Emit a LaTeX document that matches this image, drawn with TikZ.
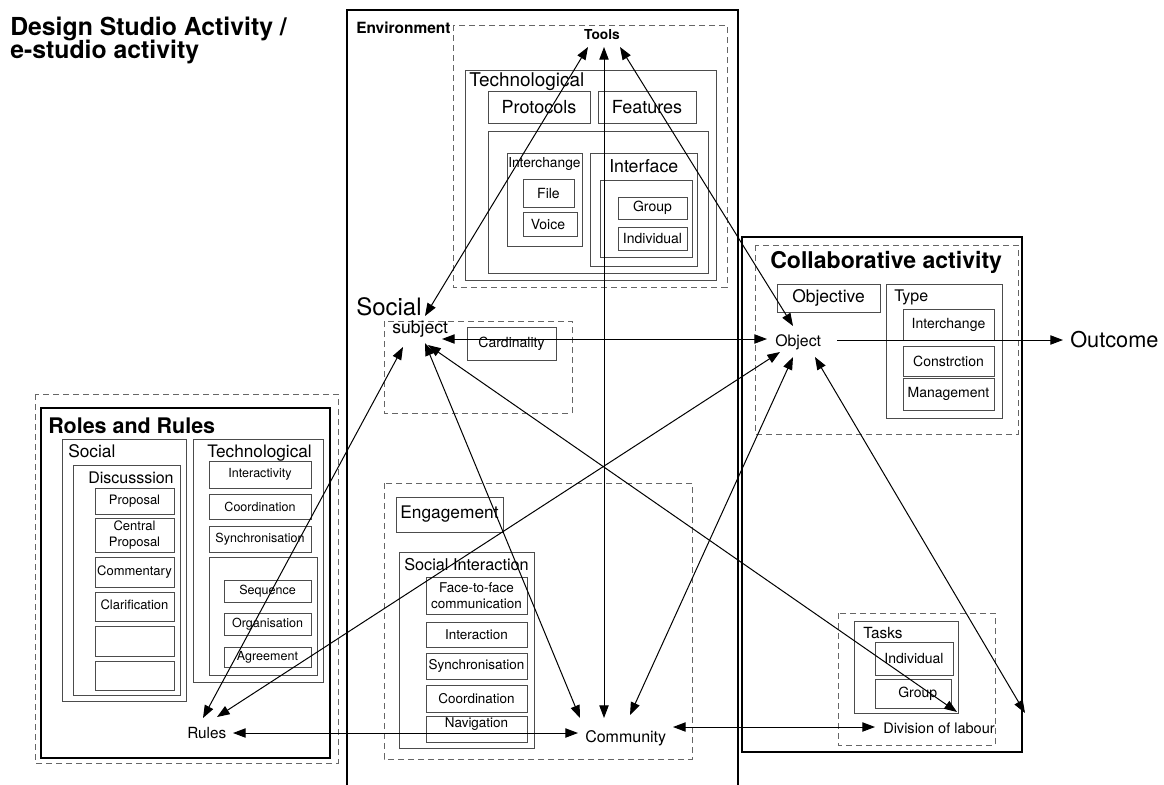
\documentclass[tikz,border=0pt]{standalone}
\usepackage{fontspec}
\setmainfont{TeX Gyre Heros}
\usetikzlibrary{arrows.meta,calc}

% font size helper: size, baseline skip
\newcommand\fs[2]{\fontsize{#1}{#2}\selectfont}
% boxed text item: name, corner, corner, node options, text
\newcommand\tbox[5]{%
  \draw[ibox] #2 rectangle #3;
  \node[txt,#4] (#1) at ($#2!0.5!#3$) {#5};}

\begin{document}
\begin{tikzpicture}[x=0.75pt,y=-0.75pt,
  >={Triangle[length=9.5pt,width=7pt]},
  ibox/.style={draw=black!70,line width=0.75pt},
  frame/.style={draw=black,line width=1.4pt},
  dbox/.style={draw=black!60,line width=0.75pt,dash pattern=on 4.5pt off 3pt},
  txt/.style={inner sep=0pt,font=\fs{10.5pt}{12.5pt},align=center},
  lbl/.style={inner sep=0pt,anchor=base west},
  conn/.style={line width=0.75pt,<->},
  sz9/.style={font=\fs{9.4pt}{12pt}},
  sz10/.style={font=\fs{10.1pt}{12pt}},
]
\useasboundingbox (0,0) rectangle (1164,785);
\fill[white] (0,0) rectangle (1164,785);

% ---------- title ----------
\node[lbl,font=\bfseries\fs{18.6pt}{20pt}] (title1) at (10,35) {Design Studio Activity /};
\node[lbl,font=\bfseries\fs{18.6pt}{20pt}] (title2) at (10,58) {e-studio activity};

% ---------- environment ----------
\draw[frame] (347,800) -- (347,10) -- (738,10) -- (738,800);
\node[lbl,font=\bfseries\fs{11.6pt}{14pt}] (env) at (356,33) {Environment};

% tools
\draw[dbox] (453,25) rectangle (727,287);
\node[inner sep=0pt,anchor=base,font=\bfseries\fs{10.3pt}{12pt}] (tools) at (602,39) {Tools};
\draw[ibox] (465,70) rectangle (716,280);
\node[lbl,font=\fs{14.2pt}{16pt}] (techenv) at (469,86) {Technological};
\tbox{protocols}{(488,91)}{(590,123)}{font=\fs{13.5pt}{15pt}}{Protocols}
\tbox{features}{(598,91)}{(696,123)}{font=\fs{13.5pt}{15pt}}{Features}
\draw[ibox] (488,131) rectangle (708,273);
\draw[ibox] (507,153) rectangle (582,246);
\node[lbl,font=\fs{10.3pt}{12pt}] (interchange) at (508,167) {Interchange};
\tbox{file}{(523,179)}{(574,207)}{}{File}
\tbox{voice}{(523,212)}{(577,236)}{xshift=-1.5pt}{Voice}
\draw[ibox] (590,153) rectangle (697,266);
\node[lbl,font=\fs{13.3pt}{15pt}] (interface) at (609,172) {Interface};
\draw[ibox] (600,180) rectangle (692,257);
\tbox{igroup}{(618,197)}{(687,219)}{}{Group}
\tbox{iindiv}{(618,227)}{(687,250)}{}{Individual}

% social
\node[lbl,font=\fs{18pt}{20pt}] (social) at (356,315) {Social};
\draw[dbox] (384,321) rectangle (572,413);
\node[lbl,font=\fs{13.2pt}{15pt}] (subject) at (392,333) {subject};
\tbox{card}{(467,327)}{(556,360)}{}{Cardinality}

% engagement
\draw[dbox] (384,483) rectangle (692,759);
\tbox{engage}{(396,497)}{(503,532)}{font=\fs{13pt}{15pt}}{Engagement}
\draw[ibox] (399,552) rectangle (534,748);
\node[lbl,font=\fs{12.2pt}{14pt}] (socint) at (404,570) {Social Interaction};
\tbox{f2f}{(426,577)}{(527,614)}{sz10}{Face-to-face\\communication}
\tbox{inter}{(426,622)}{(527,647)}{sz10}{Interaction}
\tbox{sync}{(426,653)}{(527,679)}{sz10}{Synchronisation}
\tbox{coord}{(426,685)}{(527,712)}{sz10}{Coordination}
\tbox{navig}{(426,716)}{(527,742)}{sz10,yshift=3.5pt}{Navigation}
\node[lbl,font=\fs{12pt}{14pt}] (community) at (585,742) {Community};

% ---------- roles and rules ----------
\draw[dbox] (35,394) rectangle (338,763);
\draw[frame] (41,408) rectangle (330,758);
\node[lbl,font=\bfseries\fs{16.1pt}{18pt}] (roles) at (48,433) {Roles and Rules};
\draw[ibox] (62,439) rectangle (186,701);
\node[lbl,font=\fs{13pt}{15pt}] (rsocial) at (68,457) {Social};
\draw[ibox] (73,465) rectangle (180,695);
\node[lbl,font=\fs{12pt}{13pt}] (discuss) at (88,483) {Discusssion};
\tbox{proposal}{(95,488)}{(174,514)}{font=\fs{9.75pt}{12.5pt}}{Proposal}
\tbox{central}{(95,518)}{(174,552)}{font=\fs{9.75pt}{12.5pt}}{Central\\Proposal}
\tbox{comment}{(95,557)}{(174,587)}{font=\fs{9.75pt}{12.5pt}}{Commentary}
\tbox{clarif}{(95,592)}{(174,621)}{font=\fs{9.75pt}{12.5pt},yshift=1.5pt}{Clarification}
\draw[ibox] (95,626) rectangle (174,656);
\draw[ibox] (95,661) rectangle (174,690);
\draw[ibox] (193,439) rectangle (323,682);
\node[lbl,font=\fs{12.9pt}{15pt}] (rtech) at (207,457) {Technological};
\tbox{interact}{(209,461)}{(311,488)}{sz9}{Interactivity}
\tbox{rcoord}{(209,494)}{(311,519)}{sz9}{Coordination}
\tbox{rsync}{(209,526)}{(311,552)}{sz9}{Synchronisation}
\draw[ibox] (209,557) rectangle (317,675);
\tbox{sequence}{(224,580)}{(311,602)}{sz9}{Sequence}
\tbox{organis}{(224,613)}{(311,635)}{sz9}{Organisation}
\tbox{agree}{(224,647)}{(311,667)}{sz9}{Agreement}
\node[lbl,font=\fs{11.5pt}{14pt}] (rules) at (187,738) {Rules};

% ---------- collaborative activity ----------
\draw[frame] (742,237) rectangle (1022,752);
\draw[dbox] (755,245) rectangle (1018,434);
\node[lbl,font=\bfseries\fs{17.3pt}{20pt}] (collab) at (770,268) {Collaborative activity};
\tbox{objective}{(777,284)}{(880,312)}{font=\fs{13.1pt}{15pt}}{Objective}
\draw[ibox] (886,284) rectangle (1002,418);
\node[lbl,font=\fs{12pt}{14pt}] (type) at (894,301) {Type};
\tbox{tinter}{(903,309)}{(994,340)}{}{Interchange}
\tbox{tconst}{(903,346)}{(994,376)}{}{Constrction}
\tbox{tmanage}{(903,378)}{(994,410)}{}{Management}
\node[lbl,font=\fs{11.9pt}{14pt}] (object) at (775,346) {Object};
\node[lbl,font=\fs{16.3pt}{18pt}] (outcome) at (1070,347) {Outcome};
\draw[dbox] (838,613) rectangle (995,745);
\draw[ibox] (854,621) rectangle (958,713);
\node[lbl,font=\fs{11.5pt}{14pt}] (tasks) at (863,638) {Tasks};
\tbox{tkindiv}{(875,642)}{(953,675)}{}{Individual}
\tbox{tkgroup}{(875,679)}{(951,708)}{xshift=3.5pt}{Group}
\node[lbl,font=\fs{10.9pt}{13pt}] (division) at (883,733) {Division of labour};
\coordinate (farend) at (1025,713);

% ---------- connectors ----------
\draw[conn] ($(tools.base)+(-14,8)$) -- ($(subject.base west)+(33,-17)$);
\draw[conn] ($(tools.base)+(2,8)$) -- ($(community.base west)+(19,-24)$);
\draw[conn] ($(tools.base)+(18,8)$) -- ($(object.base west)+(18,-20)$);
\draw[conn] ($(subject.base west)+(50,6)$) -- ($(object.base west)+(-8,-7)$);
\draw[conn] ($(subject.base west)+(11,14)$) -- ($(rules.base west)+(16,-20)$);
\draw[conn] ($(object.base west)+(5,6)$) -- ($(rules.base west)+(30,-21)$);
\draw[conn] ($(subject.base west)+(33,10)$) -- ($(community.base west)+(-5,-24)$);
\draw[conn] ($(subject.base west)+(36,12)$) -- ($(division.base west)+(74,-21)$);
\draw[conn] ($(object.base west)+(18,11)$) -- ($(community.base west)+(45,-27)$);
\draw[conn] ($(object.base west)+(40,11)$) -- (farend);
\draw[conn] ($(rules.base west)+(46,-5)$) -- ($(community.base west)+(-7,-9)$);
\draw[conn] ($(community.base west)+(88,-15)$) -- ($(division.base west)+(-8,-6)$);
\draw[line width=0.75pt,->] ($(object.base west)+(62,-6)$) -- ($(outcome.base west)+(-7,-7)$);
\end{tikzpicture}
\end{document}
